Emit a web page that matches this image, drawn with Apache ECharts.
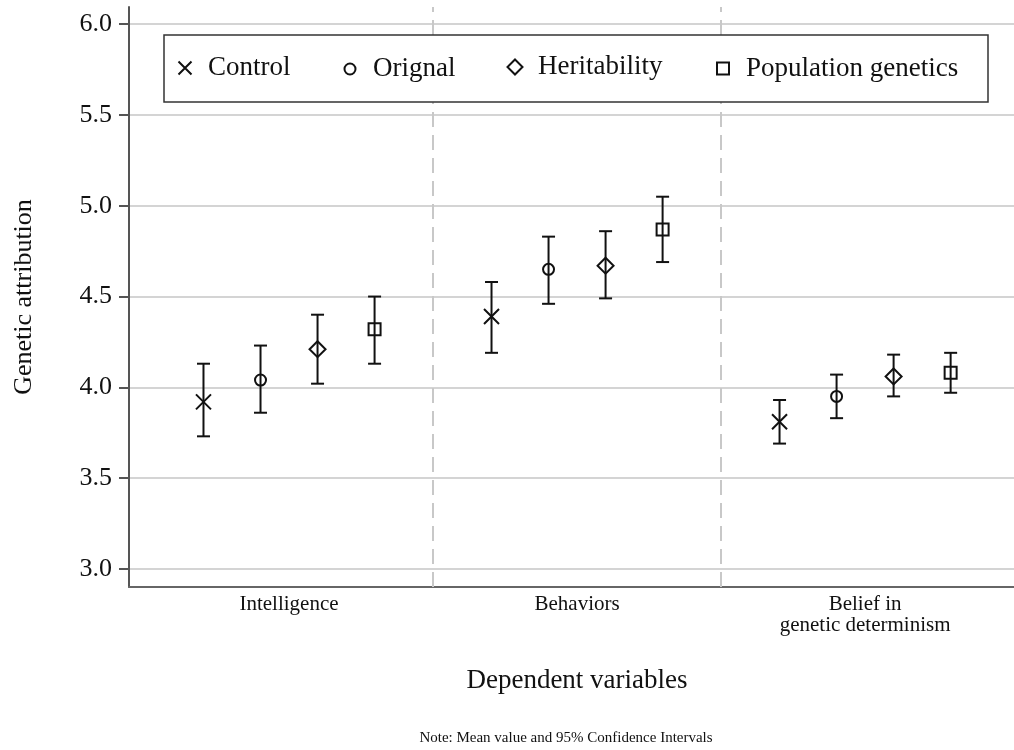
<!DOCTYPE html>
<html>
<head>
<meta charset="utf-8">
<script src="https://cdn.jsdelivr.net/npm/echarts@6/dist/echarts.min.js"></script>
<style>
  html, body { margin: 0; padding: 0; background: #fff; }
  #chart { width: 1014px; height: 750px; }
</style>
</head>
<body>
<div id="chart"></div>
<script>
// Dependent variables shown along the x axis
const categories = ['Intelligence', 'Behaviors', 'Belief in\ngenetic determinism'];
// Experimental conditions
const groups = ['Control', 'Orignal', 'Heritability', 'Population genetics'];

// Mean genetic attribution per condition (Intelligence, Behaviors, Belief)
const controlMean      = [3.92, 4.39, 3.81];
const orignalMean      = [4.04, 4.65, 3.95];
const heritabilityMean = [4.21, 4.67, 4.06];
const populationMean   = [4.32, 4.87, 4.08];

// 95% confidence interval bounds
const controlLow       = [3.73, 4.19, 3.69];
const controlHigh      = [4.13, 4.58, 3.93];
const orignalLow       = [3.86, 4.46, 3.83];
const orignalHigh      = [4.23, 4.83, 4.07];
const heritabilityLow  = [4.02, 4.49, 3.95];
const heritabilityHigh = [4.40, 4.86, 4.18];
const populationLow    = [4.13, 4.69, 3.97];
const populationHigh   = [4.50, 5.05, 4.19];

// Y axis tick labels
const yTicks = [3.0, 3.5, 4.0, 4.5, 5.0, 5.5, 6.0];

const means = [controlMean, orignalMean, heritabilityMean, populationMean];
const lows  = [controlLow, orignalLow, heritabilityLow, populationLow];
const highs = [controlHigh, orignalHigh, heritabilityHigh, populationHigh];

const FONT = '"Liberation Serif", "Times New Roman", serif';
const INK = '#111';
const GROUP_STEP = 0.198;   // horizontal spacing of conditions within a category

function xPos(cat, g) {
  return cat + 0.5 + (g - 1.5) * GROUP_STEP;
}

// Hollow marker shapes: cross, circle, diamond, square
const symbols = [
  'path://M0 0L10 10M10 0L0 10',
  'path://M0 5A5 5 0 1 0 10 5A5 5 0 1 0 0 5Z',
  'path://M5 0L10 5L5 10L0 5Z',
  'path://M0 0H10V10H0Z'
];
const symbolSizes = [15, 11, 16, 12];
const legendIconSizes = [13, 11, 15, 12];

const scatterSeries = groups.map((name, g) => ({
  name: name,
  type: 'scatter',
  symbol: symbols[g],
  symbolSize: symbolSizes[g],
  symbolKeepAspect: true,
  itemStyle: { color: 'transparent', borderColor: INK, borderWidth: 2, opacity: 1 },
  emphasis: { disabled: true },
  z: 5,
  data: categories.map((c, i) => [xPos(i, g), means[g][i]])
}));

const errorData = [];
groups.forEach((name, g) => {
  categories.forEach((c, i) => {
    errorData.push([xPos(i, g), lows[g][i], highs[g][i]]);
  });
});

const errorSeries = {
  type: 'custom',
  z: 3,
  silent: true,
  encode: { x: 0, y: [1, 2] },
  data: errorData,
  renderItem: function (params, api) {
    const x = api.value(0);
    const pLo = api.coord([x, api.value(1)]);
    const pHi = api.coord([x, api.value(2)]);
    const w = 6.5;
    const st = { stroke: INK, lineWidth: 2 };
    return {
      type: 'group',
      children: [
        { type: 'line', shape: { x1: pLo[0], y1: pLo[1], x2: pHi[0], y2: pHi[1] }, style: st },
        { type: 'line', shape: { x1: pHi[0] - w, y1: pHi[1], x2: pHi[0] + w, y2: pHi[1] }, style: st },
        { type: 'line', shape: { x1: pLo[0] - w, y1: pLo[1], x2: pLo[0] + w, y2: pLo[1] }, style: st }
      ]
    };
  }
};

// Dashed separators between the dependent variables
const separatorSeries = {
  type: 'line',
  data: [],
  silent: true,
  markLine: {
    silent: true,
    symbol: 'none',
    label: { show: false },
    lineStyle: { color: '#c8c8c8', width: 2, type: [15, 8] },
    data: categories.slice(1).map((c, i) => ({ xAxis: i + 1 }))
  }
};

// One legend entry per condition, each laid out in its own box
const legendLeft = [177, 342, 507, 715];
const legends = groups.map((name, g) => ({
  data: [{ name: name, icon: symbols[g] }],
  left: legendLeft[g] + (14 - legendIconSizes[g]) / 2,
  top: 69 - legendIconSizes[g] / 2 - 8,
  padding: 0,
  itemWidth: legendIconSizes[g],
  itemHeight: legendIconSizes[g],
  itemGap: 0,
  selectedMode: false,
  symbolKeepAspect: true,
  itemStyle: { color: 'transparent', borderColor: INK, borderWidth: 2 },
  textStyle: {
    fontFamily: FONT, fontSize: 27, color: INK,
    padding: [0, 0, 0, 11 + (14 - legendIconSizes[g]) / 2]
  },
  z: 12
}));

const chart = echarts.init(document.getElementById('chart'), null, { renderer: 'canvas' });
chart.setOption({
  animation: false,
  backgroundColor: '#fff',
  textStyle: { fontFamily: FONT },
  grid: { left: 129, right: 0, top: 7, bottom: 163, containLabel: false },
  xAxis: {
    type: 'value',
    min: -0.0556,
    max: 3.017,
    axisLine: { show: true, onZero: false, lineStyle: { color: '#666', width: 2 } },
    axisTick: { show: false },
    splitLine: { show: false },
    axisLabel: {
      customValues: categories.map((c, i) => i + 0.5),
      formatter: v => categories[Math.floor(v)],
      color: INK,
      fontFamily: FONT,
      fontSize: 21,
      lineHeight: 21,
      margin: 7,
      verticalAlign: 'top'
    }
  },
  yAxis: {
    type: 'value',
    min: 2.9,
    max: 6.095,
    name: 'Genetic attribution',
    nameLocation: 'middle',
    nameGap: 92,
    nameTextStyle: { fontFamily: FONT, fontSize: 26, color: INK },
    axisLine: { show: true, onZero: false, lineStyle: { color: '#555', width: 2 } },
    axisTick: { show: true, length: 10, customValues: yTicks, lineStyle: { color: '#555', width: 2 } },
    axisLabel: {
      customValues: yTicks,
      formatter: v => v.toFixed(1),
      color: INK,
      fontFamily: FONT,
      fontSize: 26,
      margin: 17
    },
    splitLine: { show: true, lineStyle: { color: '#d4d4d4', width: 2 } }
  },
  legend: legends,
  graphic: [
    {
      // legend frame
      type: 'rect',
      z: 11,
      shape: { x: 164, y: 35, width: 824, height: 67 },
      style: { fill: '#fff', stroke: '#333', lineWidth: 1.5 }
    },
    {
      type: 'text',
      x: 577,
      y: 681,
      style: {
        text: 'Dependent variables',
        font: '27px ' + FONT,
        fill: INK,
        align: 'center',
        verticalAlign: 'middle'
      }
    },
    {
      type: 'text',
      x: 566,
      y: 738,
      style: {
        text: 'Note: Mean value and 95% Confidence Intervals',
        font: '15px ' + FONT,
        fill: INK,
        align: 'center',
        verticalAlign: 'middle'
      }
    }
  ],
  series: [separatorSeries, errorSeries].concat(scatterSeries)
});
</script>
</body>
</html>
